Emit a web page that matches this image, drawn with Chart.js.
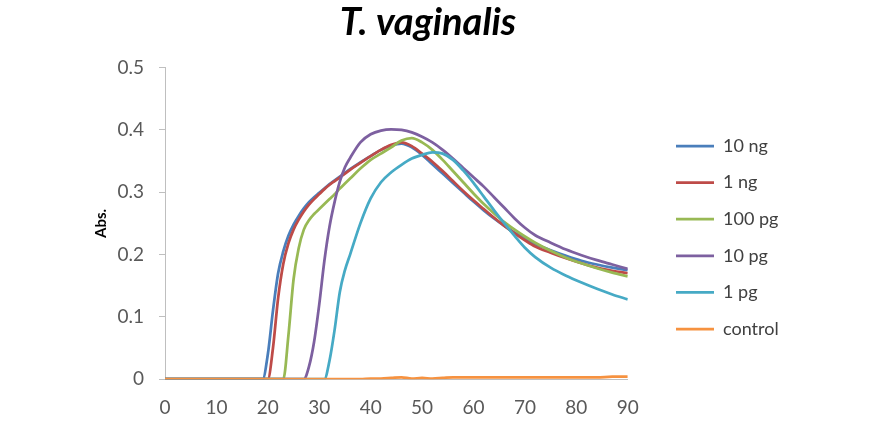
<!DOCTYPE html>
<html>
<head>
<meta charset="utf-8">
<title>T. vaginalis</title>
<script src="https://cdn.jsdelivr.net/npm/chart.js@4.4.1/dist/chart.umd.min.js"></script>
<style>
  html, body { margin: 0; padding: 0; background: #fff; }
  #wrap { width: 881px; height: 447px; position: relative; }
</style>
</head>
<body>
<div id="wrap"><canvas id="grafico"></canvas></div>
<script>
const tiempos = [0, 10, 18, 19, 20, 21, 22, 23, 24, 25, 26, 27, 28, 29, 30, 31, 32, 33, 34, 35, 36,
  38, 40, 42, 44, 46, 48, 50, 52, 54, 56, 58, 60, 62, 64, 66, 68, 70, 72,
  75, 78, 81, 84, 87, 90];

// Absorbancia por muestra
const abs10ng = [0, 0, 0, 0, 0.04, 0.11, 0.17, 0.205, 0.23, 0.248, 0.262, 0.274, 0.284, 0.292, 0.299, 0.306, 0.313, 0.319, 0.325, 0.331, 0.337,
  0.348, 0.358, 0.368, 0.375, 0.378, 0.372, 0.36, 0.345, 0.33, 0.315, 0.3, 0.285, 0.271, 0.258, 0.246, 0.235, 0.226, 0.217,
  0.207, 0.198, 0.19, 0.184, 0.179, 0.175];
const abs1ng = [0, 0, 0, 0, 0, 0.05, 0.13, 0.185, 0.218, 0.24, 0.256, 0.269, 0.28, 0.289, 0.297, 0.305, 0.312, 0.318, 0.324, 0.33, 0.336,
  0.347, 0.358, 0.368, 0.376, 0.38, 0.374, 0.362, 0.349, 0.334, 0.318, 0.302, 0.287, 0.273, 0.259, 0.246, 0.234, 0.223, 0.213,
  0.203, 0.194, 0.186, 0.179, 0.174, 0.17];
const abs100pg = [0, 0, 0, 0, 0, 0, 0, 0, 0.07, 0.16, 0.21, 0.24, 0.255, 0.265, 0.273, 0.281, 0.289, 0.297, 0.306, 0.314, 0.322,
  0.338, 0.352, 0.362, 0.372, 0.383, 0.387, 0.38, 0.368, 0.352, 0.334, 0.316, 0.298, 0.281, 0.266, 0.252, 0.24, 0.229, 0.219,
  0.206, 0.195, 0.186, 0.178, 0.171, 0.165];
const abs10pg = [0, 0, 0, 0, 0, 0, 0, 0, 0, 0, 0, 0, 0.02, 0.06, 0.12, 0.19, 0.245, 0.285, 0.317, 0.34, 0.355,
  0.38, 0.393, 0.399, 0.401, 0.4, 0.396, 0.389, 0.38, 0.368, 0.354, 0.339, 0.324, 0.309, 0.292, 0.275, 0.258, 0.243, 0.231,
  0.219, 0.208, 0.199, 0.191, 0.184, 0.177];
const abs1pg = [0, 0, 0, 0, 0, 0, 0, 0, 0, 0, 0, 0, 0, 0, 0, 0, 0.03, 0.08, 0.14, 0.175, 0.2,
  0.25, 0.29, 0.316, 0.332, 0.344, 0.354, 0.36, 0.364, 0.362, 0.352, 0.335, 0.315, 0.293, 0.271, 0.25, 0.23, 0.211, 0.196,
  0.179, 0.166, 0.155, 0.145, 0.136, 0.128];
const absControl = [0, 0, 0, 0, 0, 0, 0, 0, 0, 0, 0, 0, 0, 0, 0, 0, 0, 0, 0, 0, 0,
  0, 0.001, 0.001, 0.002, 0.003, 0.001, 0.002, 0.001, 0.002, 0.003, 0.003, 0.003, 0.003, 0.003, 0.003, 0.003, 0.003, 0.003,
  0.003, 0.003, 0.003, 0.003, 0.004, 0.004];

const etiquetas = ["10 ng", "1 ng", "100 pg", "10 pg", "1 pg", "control"];
const series = [abs10ng, abs1ng, abs100pg, abs10pg, abs1pg, absControl];
const colores = ["#4A7EBB", "#BE4B48", "#98B954", "#7D60A0", "#46AAC5", "#F69240"];
const ticksY = [0, 0.1, 0.2, 0.3, 0.4, 0.5];

const fuente = "Lato, 'Open Sans', sans-serif";

// Coloca la leyenda y el titulo donde estan en la figura original
const ajusteLeyenda = {
  id: "ajusteLeyenda",
  afterLayout(chart) {
    const lg = chart.legend;
    const pad = lg.options.labels.padding;
    const dx = 676 - pad - lg.left;
    lg.left += dx; lg.right += dx;
    const dy = 137 - pad - lg.top;
    lg.top += dy; lg.bottom += dy;
    const t = chart.titleBlock;
    const dxt = 428 - (t.left + t.right) / 2;
    t.left += dxt; t.right += dxt;
  }
};

document.addEventListener("DOMContentLoaded", () => {
  const ctx = document.getElementById("grafico").getContext("2d");

  const datasets = series.map((vals, i) => ({
    label: etiquetas[i],
    data: tiempos.map((t, k) => ({ x: t, y: vals[k] })),
    borderColor: colores[i],
    backgroundColor: colores[i],
    borderWidth: 2.75,
    pointRadius: 0,
    cubicInterpolationMode: "monotone",
    fill: false,
    order: series.length - i   // control encima, como en Excel
  }));

  new Chart(ctx, {
    type: "line",
    data: { datasets },
    options: {
      responsive: true,
      maintainAspectRatio: false,
      animation: false,
      layout: { padding: { left: 0, right: 122, top: 0, bottom: 11 } },
      plugins: {
        title: {
          display: true,
          text: "T. vaginalis",
          color: "#000",
          font: { family: fuente, size: 38, weight: "bold", style: "italic" },
          padding: { top: 0, bottom: 22 }
        },
        legend: {
          position: "right",
          align: "start",
          labels: {
            usePointStyle: true,
            pointStyle: "line",
            pointStyleWidth: 38,
            padding: 18.6,
            color: "#404040",
            font: { family: fuente, size: 18 },
            sort: (a, b) => a.datasetIndex - b.datasetIndex
          }
        },
        tooltip: { enabled: false }
      },
      scales: {
        x: {
          type: "linear",
          min: 0,
          max: 90,
          ticks: { stepSize: 10, color: "#595959", padding: 17, font: { family: fuente, size: 19 } },
          grid: { display: false, drawTicks: false },
          border: { display: true, color: "#bfbfbf" }
        },
        y: {
          min: 0,
          max: 0.5,
          afterBuildTicks: (s) => { s.ticks = ticksY.map(v => ({ value: v })); },
          afterFit: (s) => { s.width = 165; },
          ticks: { color: "#595959", padding: 15, font: { family: fuente, size: 19 } },
          grid: { drawOnChartArea: false, drawTicks: true, tickLength: 6, color: "#bfbfbf" },
          border: { display: true, color: "#bfbfbf" },
          title: {
            display: true,
            text: "Abs.",
            color: "#000",
            font: { family: fuente, size: 15, weight: "bold" },
            padding: { top: 92, bottom: 0 }
          }
        }
      }
    },
    plugins: [ajusteLeyenda]
  });
});
</script>
</body>
</html>
